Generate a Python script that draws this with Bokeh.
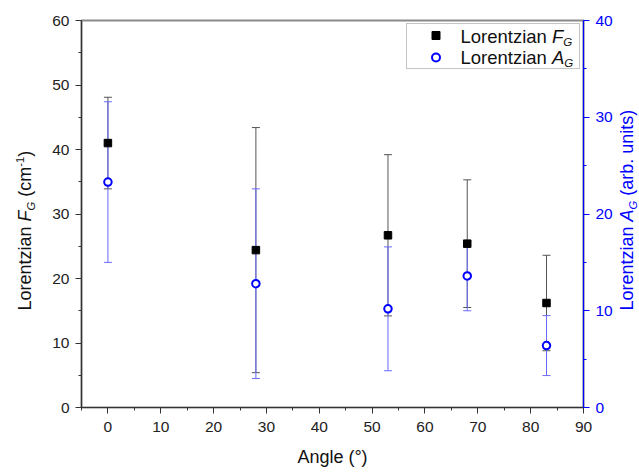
import math
from bokeh.plotting import figure
from bokeh.layouts import row
from bokeh.core.properties import value
from bokeh.models import (Range1d, LinearAxis, SingleIntervalTicker, Whisker, TeeHead,
                          ColumnDataSource, Legend, LegendItem)
from bokeh.embed import file_html
from bokeh.resources import INLINE

# ---- data ----
angles = [0, 28, 53, 68, 83]
fg = [41.0, 24.4, 26.7, 25.4, 16.2]        # Lorentzian F_G (cm-1), left axis
fg_err = [7.1, 19.0, 12.5, 9.9, 7.4]
ag = [23.3, 12.8, 10.2, 13.6, 6.4]         # Lorentzian A_G (arb. units), right axis
ag_err = [8.3, 9.8, 6.4, 3.6, 3.1]

FONT = "Liberation Sans"
BLUE = "#0000ff"
DARK = "#111111"

src_f = ColumnDataSource(dict(x=angles, y=fg,
                              upper=[v + e for v, e in zip(fg, fg_err)],
                              lower=[v - e for v, e in zip(fg, fg_err)]))
src_a = ColumnDataSource(dict(x=angles, y=ag,
                              upper=[v + e for v, e in zip(ag, ag_err)],
                              lower=[v - e for v, e in zip(ag, ag_err)]))

# layout constants (canvas pixels)
W, H = 639, 472
FL, FR, FT, FB = 81, 583, 20, 407
LW, RW = 42, 22                 # side strips holding the axis titles
MW = W - LW - RW                # main figure width
X0, X1, Y0, Y1 = -5, 90, 0, 60

p = figure(width=MW, height=H, output_backend="svg", toolbar_location=None,
           x_range=Range1d(X0, X1), y_range=Range1d(Y0, Y1),
           min_border_left=FL - LW, min_border_right=LW + MW - FR,
           min_border_top=FT, min_border_bottom=H - FB)
p.extra_y_ranges = {"right": Range1d(0, 40)}
p.xgrid.visible = False
p.ygrid.visible = False
p.background_fill_color = "white"
p.border_fill_color = "white"
p.outline_line_color = "#8a8a8a"
p.outline_line_width = 2

def style_axis(ax, color):
    ax.axis_line_color = color
    ax.axis_line_width = 1.2
    ax.major_tick_line_color = color
    ax.minor_tick_line_color = color
    ax.major_tick_out = 6
    ax.major_tick_in = 0
    ax.minor_tick_out = 3
    ax.minor_tick_in = 0
    ax.major_label_text_font = FONT
    ax.major_label_text_font_size = "15.5px"
    ax.major_label_text_color = "#222222" if color != BLUE else BLUE

style_axis(p.xaxis[0], "#333333")
style_axis(p.yaxis[0], "#333333")
p.xaxis[0].ticker = SingleIntervalTicker(interval=10, num_minor_ticks=2)
p.yaxis[0].ticker = SingleIntervalTicker(interval=10, num_minor_ticks=2)
p.xaxis[0].major_label_standoff = 8
p.yaxis[0].major_label_standoff = 6
p.xaxis[0].axis_label = "Angle (°)"
p.xaxis[0].axis_label_text_font = FONT
p.xaxis[0].axis_label_text_font_size = "18px"
p.xaxis[0].axis_label_text_font_style = "normal"
p.xaxis[0].axis_label_text_color = DARK
p.xaxis[0].axis_label_standoff = 12

rax = LinearAxis(y_range_name="right",
                 ticker=SingleIntervalTicker(interval=10, num_minor_ticks=2))
style_axis(rax, BLUE)
rax.major_label_standoff = 6
p.add_layout(rax, "right")

# error bars
wf = Whisker(source=src_f, base="x", upper="upper", lower="lower", dimension="height",
             line_color="#555555", line_width=1,
             upper_head=TeeHead(size=8, line_color="#555555", line_width=1),
             lower_head=TeeHead(size=8, line_color="#555555", line_width=1))
wa = Whisker(source=src_a, base="x", upper="upper", lower="lower", dimension="height",
             y_range_name="right", line_color="#6a6aff", line_width=1,
             upper_head=TeeHead(size=8, line_color="#6a6aff", line_width=1),
             lower_head=TeeHead(size=8, line_color="#6a6aff", line_width=1))
p.add_layout(wf)
p.add_layout(wa)

sq = p.scatter("x", "y", source=src_f, marker="square", size=7.5,
               fill_color="black", line_color="black")
ci = p.scatter("x", "y", source=src_a, marker="circle", size=7.5, y_range_name="right",
               fill_color="white", line_color=BLUE, line_width=2)

# legend box with markers (text drawn separately for the sub-scripts)
leg = Legend(items=[LegendItem(label=" ", renderers=[sq]),
                    LegendItem(label=" ", renderers=[ci])],
             location=(406 - FL, FB - 68.5), orientation="vertical",
             glyph_width=55, glyph_height=20, label_height=20, label_width=110,
             label_standoff=5, padding=1, spacing=2, margin=0,
             border_line_color="#8a8a8a", border_line_width=1.5,
             background_fill_alpha=0,
             label_text_font_size="1px")
p.add_layout(leg)

# ---- rich text helpers ----
AW = {'L': 556, 'o': 556, 'r': 333, 'e': 556, 'n': 556, 't': 278, 'z': 500, 'i': 222,
      'a': 556, ' ': 278, '(': 333, ')': 333, 'c': 500, 'm': 833, '-': 333, '1': 556,
      'b': 556, '.': 278, 'u': 556, 's': 500, 'F': 611, 'A': 667, 'G': 778}
MID = 0.3465   # distance baseline -> middle of the em box, in em

def tw(s, size):
    return sum(AW.get(c, 556) for c in s) / 1000.0 * size

def px_to_x(X):   # canvas pixel -> main-figure data x
    return X0 + (X - FL) * (X1 - X0) / (FR - FL)

def px_to_y(Y):   # canvas pixel -> main-figure data y
    return Y0 + (FB - Y) * (Y1 - Y0) / (FB - FT)

def put_text(f, x, y, txt, size, color, style, angle=0.0):
    f.text(x=[x], y=[y], text=[txt], angle=angle,
           text_align="left", text_baseline="middle",
           text_font=value(FONT), text_font_size=value(f"{size}px"),
           text_font_style=style, text_color=color)

def piece(kind, size):
    """style, font size, baseline shift (down = +) for a rich-text piece."""
    if kind == "i":
        return "italic", size, 0.0
    if kind == "sub":
        return "italic", round(size * 0.62, 1), size * 0.18
    if kind == "sup":
        return "normal", round(size * 0.62, 1), -size * 0.42
    return "normal", size, 0.0

def rich_h(X, B, parts, size, color):
    """Left-to-right rich text starting at canvas X with baseline at canvas B."""
    x = X
    for txt, kind in parts:
        style, s, shift = piece(kind, size)
        lead = len(txt) - len(txt.lstrip())
        ymid = B + shift - MID * s
        put_text(p, px_to_x(x + tw(" " * lead, s)), px_to_y(ymid), txt.strip(), s, color, style)
        x += tw(txt, s)

def side_fig(w):
    f = figure(width=w, height=H, output_backend="svg", toolbar_location=None,
               x_range=Range1d(0, w), y_range=Range1d(FB, FT),
               x_axis_type=None, y_axis_type=None,
               min_border_left=0, min_border_right=0,
               min_border_top=FT, min_border_bottom=H - FB)
    f.outline_line_color = None
    f.background_fill_color = "white"
    f.border_fill_color = "white"
    return f

def rich_v(f, XL, BX, YS, parts, size, color):
    """Bottom-to-top rich text in side figure f (left edge at canvas XL), baseline at canvas BX."""
    y = YS
    for txt, kind in parts:
        style, s, shift = piece(kind, size)
        lead = len(txt) - len(txt.lstrip())
        xmid = BX + shift - MID * s
        put_text(f, xmid - XL, y - tw(" " * lead, s), txt.strip(), s, color, style,
                 angle=math.pi / 2)
        y -= tw(txt, s)

left = side_fig(LW)
right = side_fig(RW)

# left axis title
rich_v(left, 0, 31, 310, [("Lorentzian ", "n"), ("F", "i"), ("G", "sub"), (" (cm", "n"),
                          ("-1", "sup"), (")", "n")], 18, DARK)
# right axis title
rich_v(right, W - RW, 633, 310, [("Lorentzian ", "n"), ("A", "i"), ("G", "sub"),
                                 (" (arb. units)", "n")], 18, BLUE)
# legend texts
rich_h(460, 42.5, [("Lorentzian ", "n"), ("F", "i"), ("G", "sub")], 18.5, DARK)
rich_h(460, 63.5, [("Lorentzian ", "n"), ("A", "i"), ("G", "sub")], 18.5, DARK)

layout = row(left, p, right, spacing=0)
open("out.html", "w").write(file_html(layout, INLINE))
